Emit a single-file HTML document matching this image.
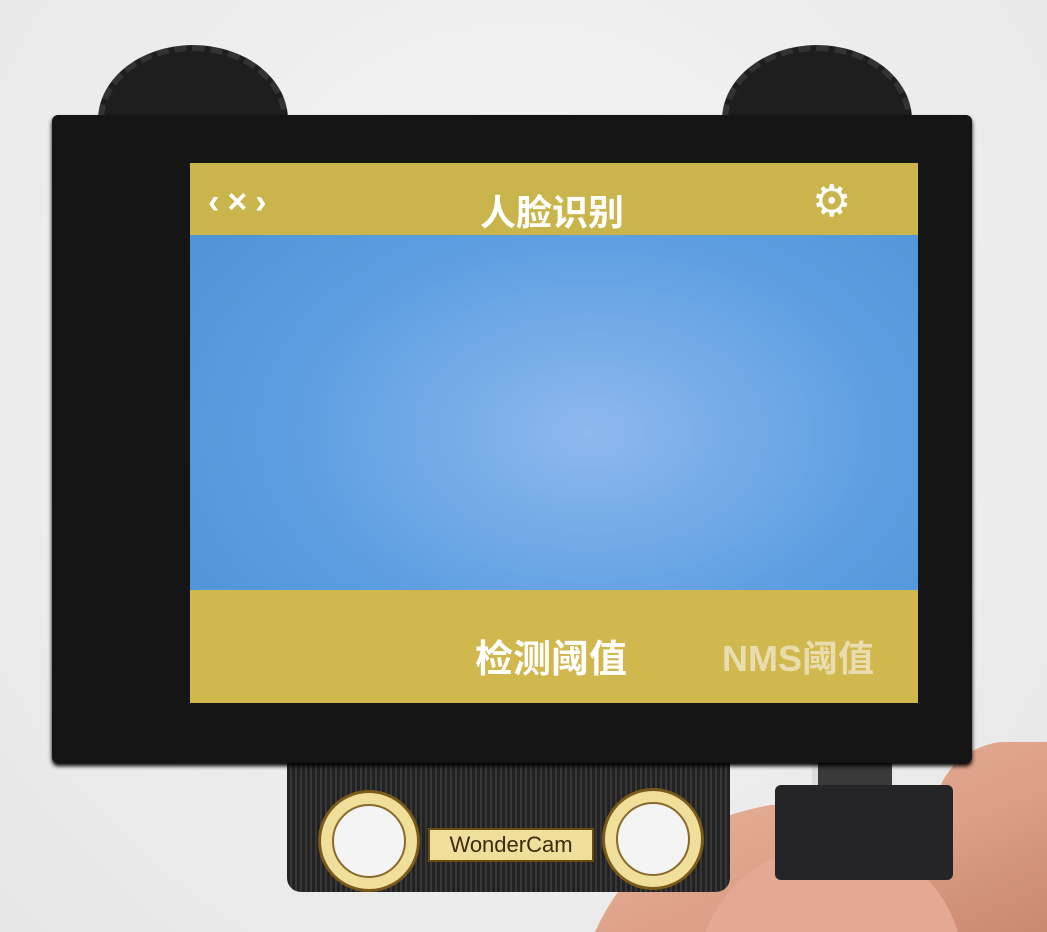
<!DOCTYPE html>
<html style="overflow:hidden;width:1047px;height:932px"><head><meta charset="utf-8"><style>
html,body{margin:0;width:1047px;height:932px;overflow:hidden}
body{background:#f2f2f2;position:relative;font-family:"Liberation Sans","Noto Sans CJK SC",sans-serif}
div{position:absolute;box-sizing:border-box}
</style></head><body>
<div style="left:0;top:0;width:1047px;height:932px;background:radial-gradient(ellipse at 50% 40%,#f7f7f7,#e6e6e6)"></div>
<svg width="1047" height="932" viewBox="0 0 1047 932" style="position:absolute;left:0;top:0;overflow:hidden">
<defs><linearGradient id="sk" x1="0" y1="0" x2="1" y2="1"><stop offset="0" stop-color="#ebb8a0"/><stop offset="0.6" stop-color="#dc9f87"/><stop offset="1" stop-color="#c98870"/></linearGradient></defs>
<path d="M595 932 Q640 830 770 805 L935 800 Q950 750 1000 742 L1047 742 L1047 932 Z" fill="url(#sk)"/>
<path d="M705 932 Q740 850 830 845 Q930 845 958 932 Z" fill="#e3a992"/>
</svg>
<div style="left:98px;top:45px;width:190px;height:150px;border-radius:50%;background:#1e1e1e;border:6px dashed #333"></div>
<div style="left:722px;top:45px;width:190px;height:150px;border-radius:50%;background:#1e1e1e;border:6px dashed #333"></div>
<div style="left:287px;top:740px;width:443px;height:152px;background:repeating-linear-gradient(90deg,#222 0 3px,#383838 3px 5px),#222;border-radius:0 0 14px 14px"></div>
<div style="left:318px;top:790px;width:102px;height:102px;border-radius:50%;background:#f0df9a;border:3px solid #7a5a1a"></div>
<div style="left:332px;top:804px;width:74px;height:74px;border-radius:50%;background:#f4f4f4;border:2px solid #8a6a2a"></div>
<div style="left:602px;top:788px;width:102px;height:102px;border-radius:50%;background:#f0df9a;border:3px solid #7a5a1a"></div>
<div style="left:616px;top:802px;width:74px;height:74px;border-radius:50%;background:#f4f4f4;border:2px solid #8a6a2a"></div>
<div style="left:428px;top:828px;width:166px;height:34px;background:#f0df9a;border:2px solid #6a4a10;color:#3a2a10;font-size:22px;line-height:30px;text-align:center">WonderCam</div>
<div style="left:812px;top:760px;width:80px;height:35px;background:#3a3a3a;border-left:6px solid #ddd"></div>
<div style="left:775px;top:785px;width:178px;height:95px;background:#252528;border-radius:6px"></div>
<div style="left:52px;top:115px;width:920px;height:648px;background:#151515;border-radius:6px;box-shadow:0 3px 4px #000"></div>
<div style="left:190px;top:163px;width:728px;height:540px;background:radial-gradient(ellipse at 55% 50%,#8eb8ee 0,#5a9de0 55%,#4b8fd2 100%)"></div>
<div style="left:190px;top:163px;width:728px;height:72px;background:#c9b54c"></div>
<div style="left:208px;top:182px;color:#fff;font-size:34px;line-height:40px;font-weight:bold;letter-spacing:8px">‹×›</div>
<div style="left:480px;top:184px;color:#fff;font-size:36px;font-weight:bold">人脸识别</div>
<div style="left:812px;top:180px;color:#fff;font-size:44px;line-height:44px">⚙</div>
<div style="left:190px;top:590px;width:728px;height:113px;background:#d1b84e"></div>
<div style="left:475px;top:628px;color:#fff;font-size:38px;font-weight:bold">检测阈值</div>
<div style="left:722px;top:630px;color:#e9ddb0;font-size:36px;font-weight:bold">NMS阈值</div>
</body></html>
